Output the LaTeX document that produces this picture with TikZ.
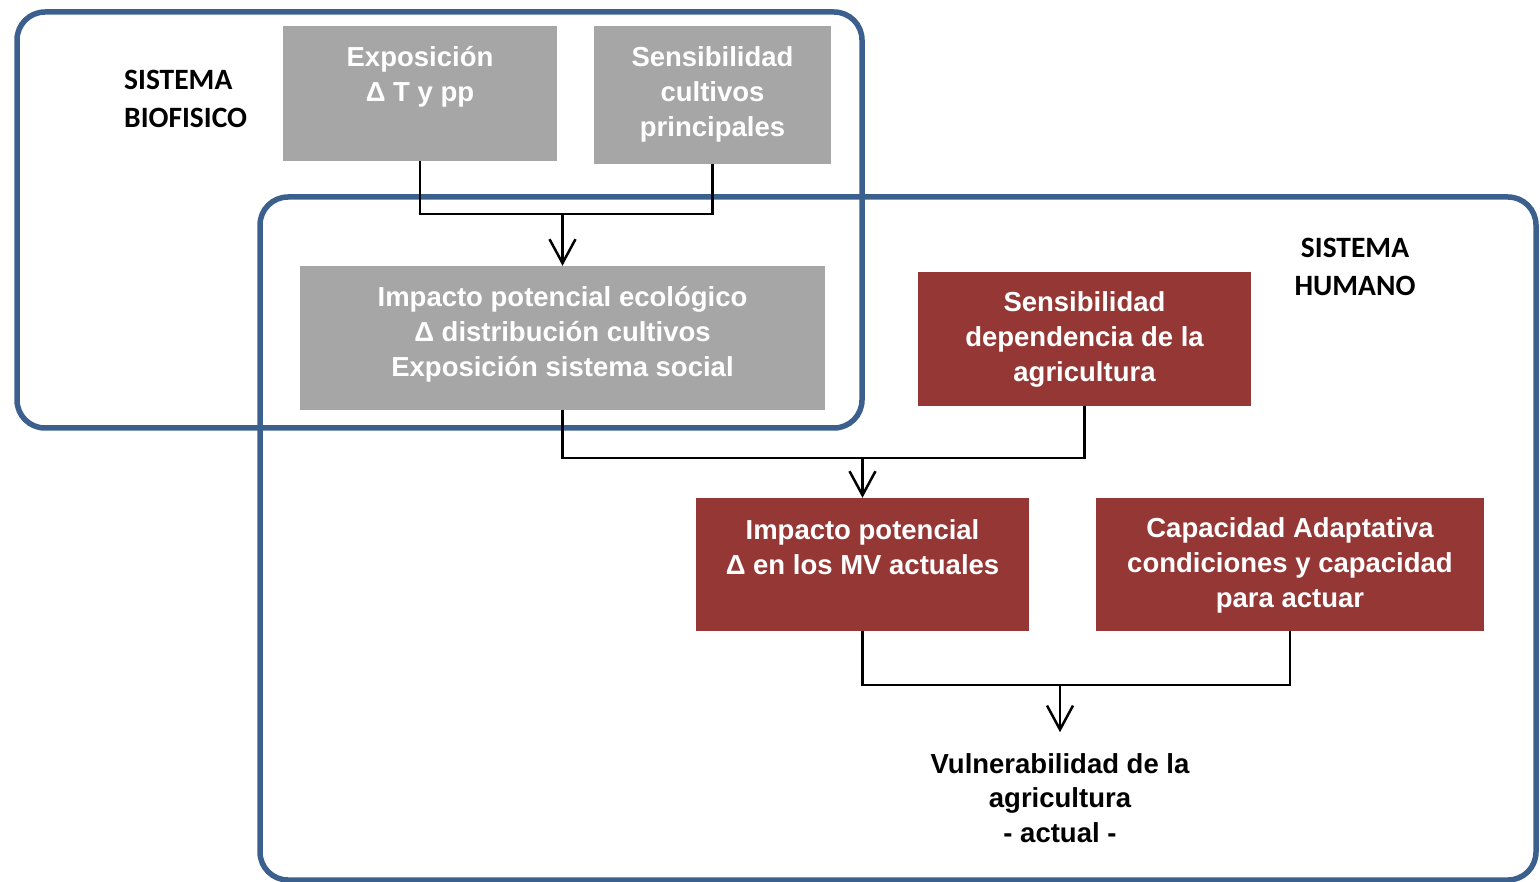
\documentclass[tikz,border=0pt]{standalone}
\usepackage{fontspec}
\setmainfont{Liberation Sans}
\newfontfamily\labelfont{Carlito}
\usetikzlibrary{arrows.meta}
\definecolor{frameblue}{RGB}{60,96,141}
\definecolor{boxgray}{RGB}{166,166,166}
\definecolor{boxred}{RGB}{149,55,53}
\begin{document}
\begin{tikzpicture}[x=1pt,y=-1pt,
  frame/.style={draw=frameblue, line width=5.5pt, rounded corners=28pt},
  graybox/.style={fill=boxgray, draw=none, inner sep=0pt},
  redbox/.style={fill=boxred, draw=none, inner sep=0pt},
  boxtext/.style={text=white, font=\fontsize{27.5}{35}\selectfont\bfseries, align=center, inner sep=0pt},
  outtext/.style={text=black, font=\fontsize{27.5}{34.5}\selectfont\bfseries, align=center, inner xsep=0pt, inner ysep=21pt},
  syslabel/.style={text=black, font=\labelfont\fontsize{29.5}{38}\selectfont\bfseries, inner sep=0pt},
  conn/.style={draw=black, line width=2.5pt},
  arr/.style={conn, -{Straight Barb[length=24pt,width=26pt]}}
]
\useasboundingbox (0,0) rectangle (1540,882);

% frames
\draw[frame] (17,12) rectangle (862,428);
\draw[frame] (260,197) rectangle (1536,880);

% boxes
\node[graybox, minimum width=274pt, minimum height=135pt] (exp) at (420,93.5) {};
\node[graybox, minimum width=237pt, minimum height=138pt] (sens) at (712.5,95) {};
\node[graybox, minimum width=525pt, minimum height=144pt] (impE) at (562.5,338) {};
\node[redbox, minimum width=333pt, minimum height=134pt] (sensD) at (1084.5,339) {};
\node[redbox, minimum width=333pt, minimum height=133pt] (impP) at (862.5,564.5) {};
\node[redbox, minimum width=388pt, minimum height=133pt] (cap) at (1290,564.5) {};
\node[outtext] (vul) at (1060,798) {Vulnerabilidad de la\\agricultura\\- actual -};

% texts in boxes
\node[boxtext] (expT) at (420,77) {Exposición\\Δ T y pp};
\node[boxtext] (sensT) at (712.5,94) {Sensibilidad\\cultivos\\principales};
\node[boxtext] (impET) at (562.5,334) {Impacto potencial ecológico\\Δ distribución cultivos\\Exposición sistema social};
\node[boxtext] (sensDT) at (1084.5,339.5) {Sensibilidad\\dependencia de la\\agricultura};
\node[boxtext] (impPT) at (862.5,547.5) {Impacto potencial\\Δ en los MV actuales};
\node[boxtext] (capT) at (1290,565.5) {Capacidad Adaptativa\\condiciones y capacidad\\para actuar};

% system labels
\node[syslabel, align=left, anchor=west] (bio) at (124,99) {SISTEMA\\BIOFISICO};
\node[syslabel, align=center] (hum) at (1355,267) {SISTEMA\\HUMANO};

% connectors
\coordinate (j1) at (impE.north |- 0,214);
\coordinate (j2) at (impP.north |- 0,458);
\coordinate (j3) at (vul.north |- 0,685);
\draw[conn] (exp.south) |- (j1) -| (sens.south);
\draw[arr] (j1) -- (impE.north);
\draw[conn] (impE.south) |- (j2) -| (sensD.south);
\draw[arr] (j2) -- (impP.north);
\draw[conn] (impP.south) |- (j3) -| (cap.south);
\draw[arr] (j3) -- (vul.north);
\end{tikzpicture}
\end{document}
